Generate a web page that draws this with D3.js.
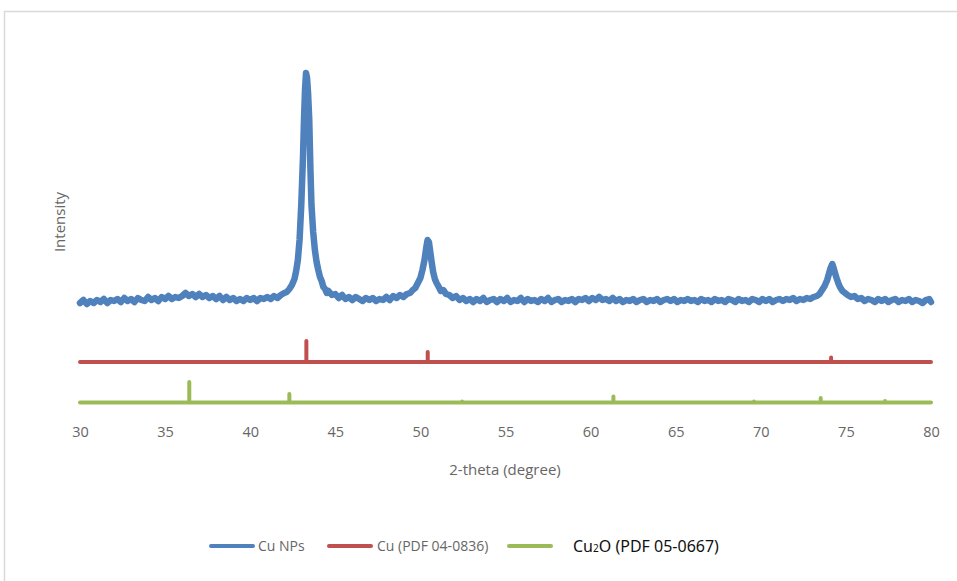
<!DOCTYPE html>
<meta charset="utf-8">
<script src="https://cdn.jsdelivr.net/npm/d3@7/dist/d3.min.js"></script>
<style>
  body { margin: 0; background: #fff; }
  text { font-family: "Open Sans", "Noto Sans", sans-serif; }
</style>
<svg width="957" height="581"></svg>
<script>
// 2-theta ticks
var xTicks = [30, 35, 40, 45, 50, 55, 60, 65, 70, 75, 80];

// Cu NPs measured pattern : [2-theta, intensity]
var cuNps = [
  [30.0,117],[30.2,120],[30.4,116],[30.6,119],[30.8,117],[31.0,120],[31.2,118],[31.4,121],[31.6,117],[31.8,120],
  [32.0,119],[32.2,121],[32.4,118],[32.6,122],[32.8,119],[33.0,121],[33.2,118],[33.4,122],[33.6,120],[33.8,119],
  [34.0,123],[34.2,120],[34.4,122],[34.6,119],[34.8,123],[35.0,121],[35.2,124],[35.4,121],[35.6,123],[35.8,122],
  [36.0,124],[36.2,127],[36.4,124],[36.6,126],[36.8,123],[37.0,126],[37.2,123],[37.4,125],[37.6,122],[37.8,124],
  [38.0,121],[38.2,124],[38.4,120],[38.6,123],[38.8,120],[39.0,122],[39.2,119],[39.4,121],[39.6,119],[39.8,122],
  [40.0,120],[40.2,122],[40.4,119],[40.6,122],[40.8,121],[41.0,123],[41.2,121],[41.4,124],[41.6,122],[41.8,125],
  [42.0,127],[42.15,128],[42.3,131],[42.45,135],[42.6,141],[42.7,149],[42.8,160],[42.9,180],[43.0,215],[43.1,262],
  [43.16,300],[43.22,330],[43.28,347],[43.34,342],[43.4,327],[43.47,300],[43.54,250],[43.6,215],[43.7,188],[43.8,170],
  [43.9,158],[44.0,150],[44.1,143],[44.2,139],[44.3,133],[44.4,131],[44.5,127],[44.6,129],[44.8,125],[45.0,126],
  [45.2,122],[45.4,125],[45.6,121],[45.8,123],[46.0,120],[46.2,123],[46.4,121],[46.6,119],[46.8,122],[47.0,120],
  [47.2,122],[47.4,119],[47.6,121],[47.8,120],[48.0,123],[48.2,120],[48.4,124],[48.6,122],[48.8,125],[49.0,123],
  [49.2,126],[49.4,127],[49.55,130],[49.7,132],[49.85,137],[50.0,142],[50.12,150],[50.24,160],[50.34,172],[50.42,180],
  [50.5,178],[50.58,168],[50.66,158],[50.75,148],[50.85,141],[50.95,137],[51.05,134],[51.2,129],[51.35,130],[51.5,126],
  [51.7,125],[51.9,122],[52.1,124],[52.3,120],[52.5,122],[52.7,119],[52.9,121],[53.1,118],[53.3,121],[53.5,119],
  [53.7,122],[53.9,118],[54.1,120],[54.3,121],[54.5,118],[54.7,121],[54.9,119],[55.1,122],[55.3,118],[55.5,120],
  [55.7,119],[55.9,122],[56.1,118],[56.3,121],[56.5,119],[56.7,120],[56.9,118],[57.1,121],[57.3,119],[57.5,122],
  [57.7,118],[57.9,120],[58.1,121],[58.3,118],[58.5,120],[58.7,119],[58.9,121],[59.1,118],[59.3,121],[59.5,120],
  [59.7,122],[59.9,119],[60.1,122],[60.3,120],[60.5,123],[60.7,120],[60.9,121],[61.1,119],[61.3,122],[61.5,119],
  [61.7,121],[61.9,118],[62.1,120],[62.3,119],[62.5,121],[62.7,118],[62.9,120],[63.1,121],[63.3,118],[63.5,120],
  [63.7,119],[63.9,121],[64.1,118],[64.3,120],[64.5,121],[64.7,119],[64.9,121],[65.1,118],[65.3,120],[65.5,119],
  [65.7,121],[65.9,119],[66.1,120],[66.3,118],[66.5,121],[66.7,119],[66.9,120],[67.1,118],[67.3,121],[67.5,119],
  [67.7,120],[67.9,118],[68.1,121],[68.3,120],[68.5,118],[68.7,121],[68.9,119],[69.1,120],[69.3,118],[69.5,121],
  [69.7,120],[69.9,118],[70.1,121],[70.3,119],[70.5,121],[70.7,118],[70.9,120],[71.1,121],[71.3,119],[71.5,121],
  [71.7,120],[71.9,122],[72.1,119],[72.3,121],[72.5,120],[72.7,122],[72.9,121],[73.1,123],[73.3,124],[73.45,126],
  [73.6,130],[73.75,134],[73.9,140],[74.0,146],[74.1,152],[74.2,156],[74.28,152],[74.36,147],[74.45,142],[74.55,137],
  [74.65,133],[74.8,129],[74.95,127],[75.1,125],[75.3,123],[75.5,124],[75.7,121],[75.9,122],[76.1,119],[76.3,121],
  [76.5,120],[76.7,118],[76.9,121],[77.1,119],[77.3,121],[77.5,118],[77.7,120],[77.9,121],[78.1,118],[78.3,120],
  [78.5,119],[78.7,121],[78.9,118],[79.1,120],[79.3,119],[79.5,117],[79.7,120],[79.9,121],[80.0,118]
];

// Cu reference (PDF 04-0836): baseline and sticks [2-theta, intensity]
var cuRefBase = 58;
var cuRefPeaks = [[43.3, 79], [50.43, 68], [74.13, 62.5]];

// Cu2O reference (PDF 05-0667)
var cu2oRefBase = 17.5;
var cu2oRefPeaks = [[36.42, 38], [42.3, 26], [52.45, 18.5], [61.34, 23.5], [69.6, 18.5], [73.52, 22], [77.3, 19]];

var seriesNames = ["Cu NPs", "Cu (PDF 04-0836)", "Cu2O (PDF 05-0667)"];
var seriesColors = ["#4f81bd", "#c0504d", "#9bbb59"];

var svg = d3.select("svg");

// chart area border
svg.append("rect")
  .attr("x", 4.5).attr("y", 11.5)
  .attr("width", 1000).attr("height", 700)
  .attr("fill", "none")
  .attr("stroke", "#d9d9d9")
  .attr("stroke-width", 1.5);

var x = d3.scaleLinear().domain([30, 80]).range([80, 931]);
var y = d3.scaleLinear().domain([0, 350]).range([420, 70]);

var line = d3.line()
  .x(function(d) { return x(d[0]); })
  .y(function(d) { return y(d[1]); });

// turn a stick pattern into a polyline along its baseline
function stickPoints(base, peaks) {
  var pts = [[30, base]];
  peaks.forEach(function(p) {
    pts.push([p[0], base], [p[0], p[1]], [p[0], base]);
  });
  pts.push([80, base]);
  return pts;
}

// Cu2O reference
svg.append("path")
  .attr("d", line(stickPoints(cu2oRefBase, cu2oRefPeaks)))
  .attr("fill", "none")
  .attr("stroke", seriesColors[2])
  .attr("stroke-width", 4)
  .attr("stroke-linecap", "round")
  .attr("stroke-linejoin", "round");

// Cu reference
svg.append("path")
  .attr("d", line(stickPoints(cuRefBase, cuRefPeaks)))
  .attr("fill", "none")
  .attr("stroke", seriesColors[1])
  .attr("stroke-width", 4)
  .attr("stroke-linecap", "round")
  .attr("stroke-linejoin", "round");

// Cu NPs pattern
svg.append("path")
  .attr("d", line(cuNps))
  .attr("fill", "none")
  .attr("stroke", seriesColors[0])
  .attr("stroke-width", 6.5)
  .attr("stroke-linecap", "round")
  .attr("stroke-linejoin", "round");

// X axis (labels only)
var xAxis = svg.append("g")
  .attr("transform", "translate(0,432)")
  .call(d3.axisBottom(x).tickValues(xTicks).tickSize(0).tickPadding(0));
xAxis.select(".domain").remove();
xAxis.selectAll("text")
  .attr("dy", "0.35em")
  .attr("fill", "#666")
  .style("font-size", "14.5px")
  .style("font-family", "'Open Sans', 'Noto Sans', sans-serif");

// axis titles
svg.append("text")
  .attr("x", 505).attr("y", 470)
  .attr("dy", "0.35em")
  .attr("text-anchor", "middle")
  .attr("fill", "#666")
  .style("font-size", "15px")
  .text("2-theta (degree)");

svg.append("text")
  .attr("transform", "translate(60,222) rotate(-90)")
  .attr("dy", "0.35em")
  .attr("text-anchor", "middle")
  .attr("fill", "#666")
  .style("font-size", "15px")
  .text("Intensity");

// Legend
var legendX = [211, 329, 509];
var legend = svg.append("g");
legendX.forEach(function(lx, i) {
  legend.append("line")
    .attr("x1", lx).attr("x2", lx + 42)
    .attr("y1", 546).attr("y2", 546)
    .attr("stroke", seriesColors[i])
    .attr("stroke-width", 4)
    .attr("stroke-linecap", "round");
});
legend.append("text")
  .attr("x", 258).attr("y", 546).attr("dy", "0.35em")
  .attr("fill", "#666").style("font-size", "14px")
  .text(seriesNames[0]);
legend.append("text")
  .attr("x", 377).attr("y", 546).attr("dy", "0.35em")
  .attr("fill", "#666").style("font-size", "14px")
  .text(seriesNames[1]);
var cu2oLabel = legend.append("text")
  .attr("x", 573).attr("y", 546).attr("dy", "0.35em")
  .attr("fill", "#111").style("font-size", "16px")
  .style("font-family", "'Noto Sans', sans-serif");
cu2oLabel.append("tspan").text("Cu");
cu2oLabel.append("tspan").style("font-size", "10px").text("2");
cu2oLabel.append("tspan").text("O (PDF 05-0667)");
</script>
